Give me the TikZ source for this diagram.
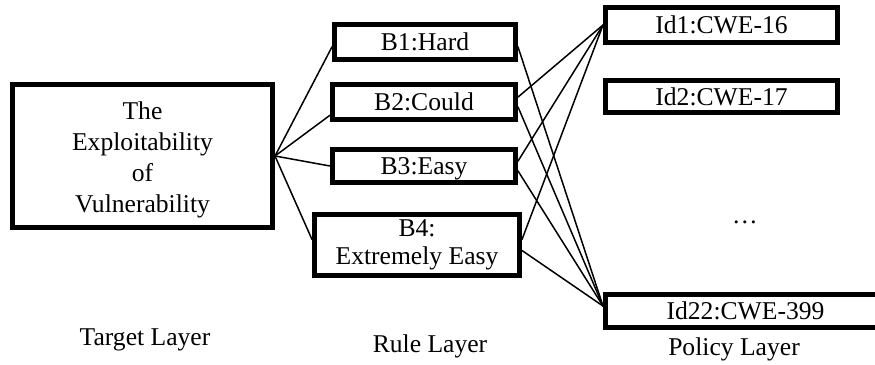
\documentclass[tikz,border=0pt]{standalone}
\usepackage{fontspec}
\setmainfont{Liberation Serif}
\usepackage{tikz}

\begin{document}
\begin{tikzpicture}[x=1pt,y=-1pt,line cap=round,
  font=\fontsize{25.6}{31}\selectfont,
  layerbox/.style={draw,line width=5pt,inner sep=0pt,line cap=butt},
  onebox/.style={layerbox,text height=17pt,text depth=0pt},
  link/.style={line width=1.5pt}]
\useasboundingbox (0,0) rectangle (875,364);
% target layer
\node[layerbox,minimum width=260pt,minimum height=143pt,align=center] (target) at (142.5,156)
  {\rule{0pt}{26.5pt}The\\Exploitability\\of\\Vulnerability};
% rule layer
\node[onebox,minimum width=181pt,minimum height=35pt] (b1) at (425,42) {B1:Hard};
\node[onebox,minimum width=183pt,minimum height=35pt] (b2) at (424,102) {B2:Could};
\node[onebox,minimum width=183pt,minimum height=33pt] (b3) at (424,166) {B3:Easy};
\node[layerbox,minimum width=205pt,minimum height=61pt,align=center,
  font=\fontsize{25.6}{28}\selectfont] (b4) at (417,245) {B4:\\Extremely Easy};
% policy layer
\node[onebox,minimum width=232pt,minimum height=35pt] (id1) at (721.5,25) {Id1:CWE-16};
\node[onebox,minimum width=232pt,minimum height=32pt] (id2) at (721.5,96.5) {Id2:CWE-17};
\node (dots) at (745,222) {…};
\node[onebox,minimum width=280pt,minimum height=33pt,text width=273pt,align=center] (id22) at (745.5,311) {Id22:CWE-399};
\node[anchor=base] (tlayer) at (145,345) {Target Layer};
\node[anchor=base] (rlayer) at (430,352) {Rule Layer};
\node[anchor=base] (player) at (734,355) {Policy Layer};
\foreach \b/\a in {b1/183,b2/188,b3/180,b4/177}
  \draw[link] (target.east) -- (\b.\a);
\draw[link] (b1.-3) -- (id22.178);
\foreach \b in {b2,b3,b4} {
  \draw[link] (\b.3) -- (id1.west);
  \draw[link] (\b.-3) -- (id22.178);
}
\end{tikzpicture}
\end{document}
